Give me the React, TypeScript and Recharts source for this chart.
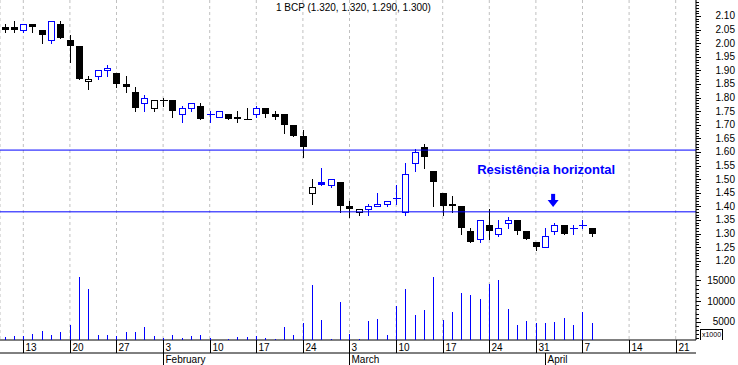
import React from 'react';
import { ComposedChart, Bar, XAxis, YAxis, CartesianGrid, ReferenceLine, ReferenceDot } from 'recharts';

// ---- data (trading-day index 0 = 9 Jan 2003) ----
const opens = [
  2.06, 2.06, 2.05, 2.07, 2.05, 2.01, 2.07, 2.01, 1.99, 1.86,
  1.88, 1.90, 1.89, 1.85, 1.82, 1.78, 1.76, 1.79, 1.79, 1.74,
  1.76, 1.77, 1.74, 1.73, 1.74, 1.73, 1.72, 1.74, 1.76, 1.74,
  1.74, 1.70, 1.66, 1.45, 1.49, 1.48, 1.49, 1.40, 1.38, 1.39,
  1.40, 1.41, 1.43, 1.38, 1.56, 1.62, 1.53, 1.45, 1.41, 1.40,
  1.31, 1.28, 1.33, 1.30, 1.34, 1.35, 1.31, 1.27, 1.25, 1.31,
  1.33, 1.32, 1.33, 1.32,
];
const highs = [
  2.07, 2.08, 2.07, 2.07, 2.05, 2.08, 2.08, 2.03, 1.99, 1.88,
  1.90, 1.92, 1.89, 1.88, 1.84, 1.81, 1.79, 1.80, 1.79, 1.77,
  1.78, 1.78, 1.75, 1.75, 1.74, 1.75, 1.76, 1.77, 1.76, 1.75,
  1.74, 1.70, 1.68, 1.50, 1.54, 1.50, 1.49, 1.42, 1.39, 1.41,
  1.45, 1.42, 1.48, 1.56, 1.61, 1.63, 1.53, 1.45, 1.44, 1.40,
  1.32, 1.35, 1.39, 1.35, 1.36, 1.35, 1.31, 1.27, 1.32, 1.34,
  1.33, 1.33, 1.35, 1.32,
];
const lows = [
  2.04, 2.04, 2.04, 2.04, 2.00, 2.00, 2.02, 1.93, 1.87, 1.83,
  1.87, 1.88, 1.84, 1.82, 1.75, 1.75, 1.75, 1.77, 1.73, 1.71,
  1.75, 1.72, 1.71, 1.73, 1.72, 1.71, 1.72, 1.73, 1.73, 1.72,
  1.67, 1.66, 1.58, 1.41, 1.48, 1.47, 1.38, 1.36, 1.37, 1.37,
  1.40, 1.40, 1.41, 1.37, 1.53, 1.54, 1.40, 1.37, 1.38, 1.30,
  1.27, 1.27, 1.28, 1.29, 1.32, 1.30, 1.28, 1.24, 1.25, 1.30,
  1.30, 1.30, 1.32, 1.29,
];
const closes = [
  2.05, 2.05, 2.07, 2.06, 2.03, 2.08, 2.02, 1.99, 1.87, 1.87,
  1.90, 1.91, 1.85, 1.84, 1.76, 1.80, 1.79, 1.79, 1.75, 1.76,
  1.78, 1.72, 1.74, 1.75, 1.72, 1.72, 1.72, 1.76, 1.74, 1.73,
  1.70, 1.66, 1.62, 1.47, 1.48, 1.50, 1.40, 1.39, 1.39, 1.40,
  1.41, 1.42, 1.43, 1.52, 1.60, 1.58, 1.49, 1.40, 1.40, 1.32,
  1.27, 1.35, 1.31, 1.32, 1.35, 1.31, 1.28, 1.25, 1.29, 1.33,
  1.30, 1.32, 1.33, 1.30,
];
const volumes = [
  1400, 1650, 1550, 2150, 2850, 1900, 2600, 4250, 15900, 12900,
  1900, 1900, 1550, 2600, 2600, 3800, 1550, 1150, 1800, 1100,
  1550, 1900, 1150, 650, 850, 1350, 1350, 1550, 1100, 850,
  3750, 1800, 4800, 13900, 5450, 850, 9800, 2050, 850, 5200,
  5600, 1800, 8800, 12900, 6650, 7850, 15900, 5450, 7350, 11950,
  11450, 10500, 14150, 15100, 8100, 4250, 5200, 4800, 4800, 4950,
  5900, 4250, 7350, 4800,
];

const weekTickIdx = [2, 7, 12, 17, 22, 27, 32, 37, 42, 47, 52, 57, 62, 67, 72];
const weekTickLabels = ['13', '20', '27', '3', '10', '17', '24', '3', '10', '17', '24', '31', '7', '14', '21'];
const monthTickIdx = [17, 37, 58];
const monthTickLabels = ['February', 'March', 'April'];
const priceLabels = ['1.20', '1.25', '1.30', '1.35', '1.40', '1.45', '1.50', '1.55', '1.60', '1.65',
  '1.70', '1.75', '1.80', '1.85', '1.90', '1.95', '2.00', '2.05', '2.10'];
const volumeLabels = [5000, 10000, 15000];
const resistanceLevels = [1.607, 1.38];
const titleText = '1 BCP (1.320, 1.320, 1.290, 1.300)';
const annotationText = 'Resistência horizontal';
const annotationPos = { x: 58.1, y: 1.534 };
const arrowPos = { x: 58.85, y: 1.446 };

const xDomain = [-0.5, 74.18];
const priceDomain = [0.9088, 2.1588];
const volumeDomain = [604, 82729];

const priceComb = Array.from({ length: 99 }, (_, k) => (117 + k) / 100);
const volumeComb = Array.from({ length: 16 }, (_, k) => (k + 1) * 1000);

const BLUE = '#0000ff';
const FONT = '"Liberation Sans", Arial, sans-serif';

const data = opens.map((o, i) => ({
  i,
  open: o,
  high: highs[i],
  low: lows[i],
  close: closes[i],
  prevClose: i > 0 ? closes[i - 1] : o,
  range: [lows[i], highs[i]],
  volume: volumes[i],
}));

const Candle = (props: any) => {
  const { x, y, width, height, payload } = props;
  if (x == null || y == null || !payload) return null;
  const top = Math.min(y, y + height);
  const bottom = Math.max(y, y + height);
  const { open, close, high, low, prevClose } = payload;
  const span = high - low;
  const toY = (v: number) => (span === 0 ? top : top + ((high - v) / span) * (bottom - top));
  const cx = Math.round(x + width / 2) + 0.5;
  const color = close > prevClose ? BLUE : '#000000';
  const yo = toY(open);
  const yc = toY(close);
  let body: any;
  if (open === close) {
    const yy = Math.round(yo) + 0.5;
    body = <line x1={cx - 4} x2={cx + 4} y1={yy} y2={yy} stroke={color} strokeWidth={1} />;
  } else if (close > open) {
    body = <rect x={cx - 3} y={Math.round(yc) + 0.5} width={6} height={Math.max(1, Math.round(yo) - Math.round(yc))} fill="#ffffff" stroke={color} strokeWidth={1} />;
  } else {
    body = <rect x={cx - 3.5} y={Math.round(yo)} width={7} height={Math.max(1, Math.round(yc) - Math.round(yo))} fill={color} />;
  }
  return (
    <g shapeRendering="crispEdges">
      <line x1={cx} x2={cx} y1={Math.round(top)} y2={Math.round(bottom) + 1} stroke={color} strokeWidth={1} />
      {body}
    </g>
  );
};

const VolBar = (props: any) => {
  const { x, y, width, height } = props;
  if (x == null || y == null || !(height > 0)) return null;
  return <rect x={Math.round(x + width / 2)} y={y} width={1} height={height} fill={BLUE} shapeRendering="crispEdges" />;
};

const PriceTick = (props: any) => {
  const { x, y, payload } = props;
  const label = Number(payload.value).toFixed(2);
  const major = priceLabels.includes(label);
  const yy = Math.round(y) + 0.5;
  return (
    <g>
      <line x1={x} x2={x + (major ? 5 : 3)} y1={yy} y2={yy} stroke="#000" shapeRendering="crispEdges" />
      {major && (
        <text x={x + 39} y={y + 3.5} textAnchor="end" fontSize={10} fontFamily={FONT} fill="#000">{label}</text>
      )}
    </g>
  );
};

const VolTick = (props: any) => {
  const { x, y, payload } = props;
  const v = Number(payload.value);
  const major = volumeLabels.includes(v);
  const yy = Math.round(y) + 0.5;
  return (
    <g>
      <line x1={x} x2={x + (major ? 5 : 3)} y1={yy} y2={yy} stroke="#000" shapeRendering="crispEdges" />
      {major && (
        <text x={x + 39} y={y + 3.5} textAnchor="end" fontSize={10} fontFamily={FONT} fill="#000">{String(v)}</text>
      )}
    </g>
  );
};

const DayTick = (props: any) => {
  const { x, y, payload } = props;
  const k = weekTickIdx.indexOf(Number(payload.value));
  const xx = Math.round(x) + 0.5;
  return (
    <g>
      <line x1={xx} x2={xx} y1={y} y2={y + 13} stroke="#000" shapeRendering="crispEdges" />
      <text x={xx + 2} y={y + 10.5} fontSize={10} fontFamily={FONT} fill="#000">{k >= 0 ? weekTickLabels[k] : ''}</text>
    </g>
  );
};

const MonthTick = (props: any) => {
  const { x, y, payload } = props;
  const k = monthTickIdx.indexOf(Number(payload.value));
  const xx = Math.round(x) + 0.5;
  return (
    <g>
      <line x1={xx} x2={xx} y1={y} y2={y + 12} stroke="#000" shapeRendering="crispEdges" />
      <text x={xx + 2} y={y + 10} fontSize={10} fontFamily={FONT} fill="#000">{k >= 0 ? monthTickLabels[k] : ''}</text>
    </g>
  );
};

const AnnotationText = (p: any) => (
  <text x={p.cx} y={p.cy} textAnchor="middle" dominantBaseline="central" fill={BLUE}
    fontWeight="bold" fontSize={13} fontFamily={FONT}>{annotationText}</text>
);

const Arrow = (p: any) => {
  const cx = p.cx;
  const cy = p.cy;
  return (
    <g fill={BLUE}>
      <rect x={cx - 2} y={cy} width={4} height={7} />
      <polygon points={`${cx - 5.5},${cy + 6} ${cx + 5.5},${cy + 6} ${cx},${cy + 13}`} />
    </g>
  );
};

export default function App() {
  return (
    <div style={{ position: 'absolute', left: 0, top: 0, width: 738, height: 365, background: '#fff', overflow: 'hidden' }}>
      <div style={{ position: 'absolute', left: 0, top: 0 }}>
        <ComposedChart width={738} height={365} data={data} margin={{ top: 0, right: 0, bottom: 0, left: 0 }}>
          <CartesianGrid horizontal={false} stroke="#c0c0c0" strokeDasharray="3 3" />
          <XAxis dataKey="i" type="number" domain={xDomain} allowDataOverflow ticks={weekTickIdx} interval={0}
            height={13} tickLine={false} tickSize={0} tickMargin={0} axisLine={{ stroke: '#000' }} tick={<DayTick />} />
          <XAxis xAxisId="m" dataKey="i" type="number" domain={xDomain} allowDataOverflow ticks={monthTickIdx} interval={0}
            height={12} tickLine={false} tickSize={0} tickMargin={0} axisLine={{ stroke: '#000' }} tick={<MonthTick />} />
          <YAxis orientation="right" type="number" width={42} domain={priceDomain} allowDataOverflow ticks={priceComb}
            interval={0} tickLine={false} tickSize={0} tickMargin={0} axisLine={{ stroke: '#000' }} tick={<PriceTick />} />
          {resistanceLevels.map((lv) => (
            <ReferenceLine key={lv} y={lv} stroke={BLUE} strokeWidth={1} ifOverflow="visible" />
          ))}
          <Bar dataKey="range" barSize={7} shape={<Candle />} isAnimationActive={false} />
          <ReferenceDot x={annotationPos.x} y={annotationPos.y} r={0} ifOverflow="visible" shape={AnnotationText} />
          <ReferenceDot x={arrowPos.x} y={arrowPos.y} r={0} ifOverflow="visible" shape={Arrow} />
        </ComposedChart>
      </div>
      <div style={{ position: 'absolute', left: 0, top: 0, pointerEvents: 'none' }}>
        <ComposedChart width={738} height={365} data={data} margin={{ top: 0, right: 0, bottom: 25, left: 0 }}>
          <XAxis dataKey="i" type="number" domain={xDomain} allowDataOverflow hide />
          <YAxis orientation="right" type="number" width={42} domain={volumeDomain} allowDataOverflow ticks={volumeComb}
            interval={0} tickLine={false} tickSize={0} tickMargin={0} axisLine={false} tick={<VolTick />} />
          <Bar dataKey="volume" barSize={1} shape={<VolBar />} fill={BLUE} isAnimationActive={false} />
        </ComposedChart>
      </div>
      <div style={{ position: 'absolute', left: 276, top: 2, fontFamily: FONT, fontSize: 10, lineHeight: '12px', color: '#000', whiteSpace: 'nowrap' }}>
        {titleText}
      </div>
      <div style={{ position: 'absolute', left: 700, top: 329, width: 21, height: 10, border: '1px solid #000', borderBottom: 'none',
        fontFamily: FONT, fontSize: 7, lineHeight: '10px', color: '#000', textAlign: 'center', background: '#fff' }}>
        x1000
      </div>
    </div>
  );
}
